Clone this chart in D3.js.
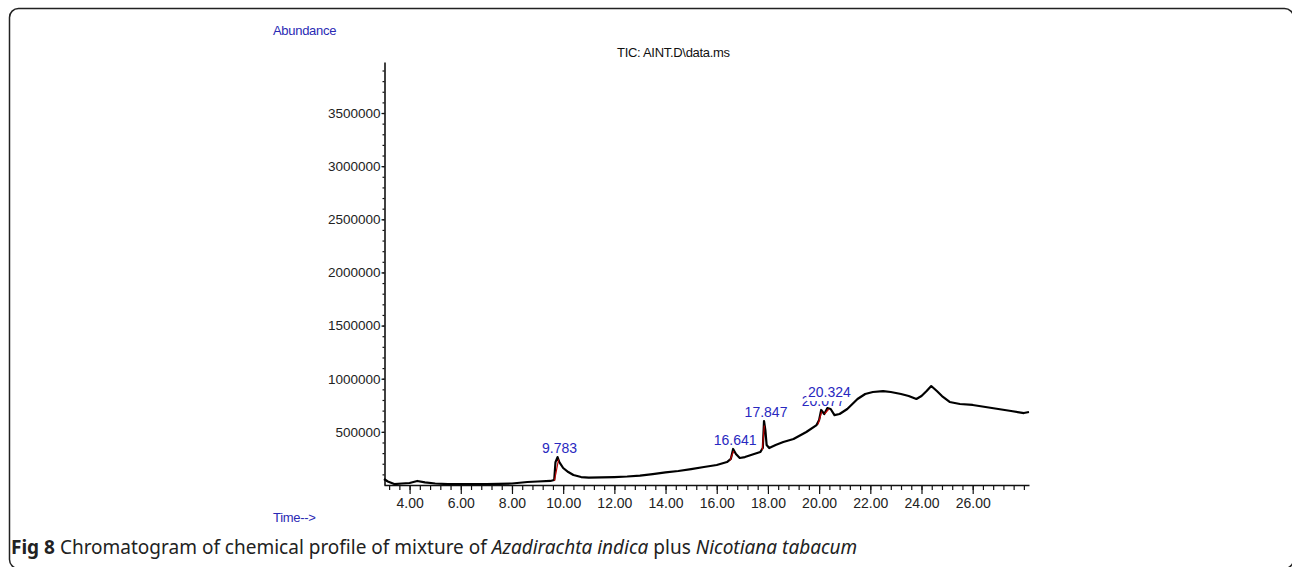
<!DOCTYPE html>
<html>
<head>
<meta charset="utf-8">
<script src="https://cdn.jsdelivr.net/npm/d3@7"></script>
<style>
body { margin: 0; background: #fff; }
svg { display: block; }
</style>
</head>
<body>
<svg class="mainSvg" width="1292" height="567"></svg>
<script>
// TIC trace (time in min, abundance)
var times = [3.0, 3.15, 3.4, 3.7, 4.0, 4.3, 4.6, 5.0, 5.5, 6.0, 7.0, 8.0, 8.6, 9.0, 9.5, 9.65,
  9.7, 9.78, 9.85, 10.0, 10.2, 10.4, 10.7, 11.0, 12.0, 12.5, 13.0, 13.5, 14.0, 14.5, 15.0,
  15.5, 16.0, 16.4, 16.55, 16.64, 16.75, 16.9, 17.1, 17.4, 17.7, 17.8, 17.847, 17.9, 17.95,
  18.05, 18.3, 18.6, 19.0, 19.5, 19.9, 20.0, 20.08, 20.2, 20.324, 20.45, 20.6, 20.8, 21.1,
  21.5, 21.8, 22.1, 22.5, 22.8, 23.2, 23.5, 23.8, 24.0, 24.2, 24.38, 24.6, 24.8, 25.1, 25.5,
  26.0, 26.5, 27.0, 27.5, 28.0, 28.2];
var abundance = [56000, 33000, 9000, 14000, 19000, 38000, 24000, 14000, 9000, 9000, 9000, 14000,
  28000, 33000, 38000, 47000, 216000, 263000, 216000, 160000, 122000, 94000, 75000, 70000,
  75000, 80000, 89000, 103000, 118000, 132000, 150000, 169000, 188000, 216000, 245000, 339000,
  292000, 254000, 263000, 287000, 310000, 348000, 602000, 517000, 376000, 348000, 376000,
  404000, 433000, 499000, 564000, 611000, 706000, 668000, 724000, 715000, 658000, 668000,
  715000, 809000, 856000, 875000, 884000, 875000, 856000, 837000, 809000, 837000, 884000,
  931000, 884000, 837000, 781000, 762000, 753000, 734000, 715000, 696000, 677000, 687000];

var peakTimes = [9.783, 16.641, 17.847, 20.077, 20.324];
var peakLabels = ["9.783", "16.641", "17.847", "20.077", "20.324"];
var peakHeights = [263000, 339000, 602000, 706000, 724000];

// red integration marks: [t1, a1, t2, a2]
var integration = [
  [9.66, 40000, 9.82, 240000],
  [16.52, 230000, 16.66, 320000],
  [17.78, 330000, 17.86, 560000],
  [19.96, 570000, 20.1, 690000],
  [20.22, 670000, 20.38, 715000]
];

var xTicks = [4, 6, 8, 10, 12, 14, 16, 18, 20, 22, 24, 26];
var yTicks = [500000, 1000000, 1500000, 2000000, 2500000, 3000000, 3500000];

var svg = d3.select(".mainSvg");
var font = "'Liberation Sans', Arial, sans-serif";

svg.append("rect")
  .attr("x", 9.5).attr("y", 8.5)
  .attr("width", 1284).attr("height", 560)
  .attr("rx", 9)
  .attr("fill", "none")
  .attr("stroke", "#222")
  .attr("stroke-width", 1.5);

var x = d3.scaleLinear().domain([3.0, 28.2]).range([384, 1029]);
var y = d3.scaleLinear().domain([0, 3980000]).range([485, 62]);

// minor ticks first
svg.append("g")
  .attr("transform", "translate(0,485)")
  .call(d3.axisBottom(x).tickValues(d3.range(3.2, 28.2, 0.4)).tickSize(5).tickSizeOuter(0).tickFormat(""))
  .call(function(g) { g.select(".domain").remove(); });

svg.append("g")
  .attr("transform", "translate(384.5,0)")
  .call(d3.axisLeft(y).tickValues(d3.range(100000, 3980000, 100000)).tickSize(2).tickSizeOuter(0).tickFormat(""))
  .call(function(g) { g.select(".domain").remove(); });

var xAxis = svg.append("g")
  .attr("transform", "translate(0,485)")
  .call(d3.axisBottom(x).tickValues(xTicks).tickSize(9).tickPadding(4).tickSizeOuter(0).tickFormat(d3.format(".2f")));
xAxis.selectAll("text").attr("font-family", font).attr("font-size", 14).attr("fill", "#222");

var yAxis = svg.append("g")
  .attr("transform", "translate(384.5,0)")
  .call(d3.axisLeft(y).tickValues(yTicks).tickSize(3).tickPadding(1).tickSizeOuter(0).tickFormat(function(d) { return d; }));
yAxis.selectAll("text").attr("font-family", font).attr("font-size", 13.5).attr("fill", "#222");

svg.selectAll(".domain").attr("stroke", "#111").attr("stroke-width", 1.6);
svg.selectAll(".tick line").attr("stroke", "#111").attr("stroke-width", 1.2);

var line = d3.line()
  .x(function(d, i) { return x(times[i]); })
  .y(function(d) { return y(d); });

svg.append("path")
  .datum(abundance)
  .attr("d", line)
  .attr("fill", "none")
  .attr("stroke", "#000")
  .attr("stroke-width", 2.2)
  .attr("stroke-linejoin", "round");

svg.selectAll(".intg")
  .data(integration)
  .enter().append("line")
  .attr("x1", function(d) { return x(d[0]); })
  .attr("y1", function(d) { return y(d[1]); })
  .attr("x2", function(d) { return x(d[2]); })
  .attr("y2", function(d) { return y(d[3]); })
  .attr("stroke", "#c00000")
  .attr("stroke-width", 1.2);

// peak labels; the last one overlaps the one before and gets a white box
peakTimes.forEach(function(t, i) {
  var lift = i == 4 ? 11 : 4;
  var px = x(t) + 2, py = y(peakHeights[i]) - lift;
  if (i == 4) {
    svg.append("rect")
      .attr("x", px - 23).attr("y", py - 14)
      .attr("width", 47).attr("height", 18)
      .attr("fill", "#fff");
  }
  svg.append("text")
    .attr("x", px).attr("y", py)
    .attr("text-anchor", "middle")
    .attr("font-family", font)
    .attr("font-size", 14)
    .attr("fill", "#2828c0")
    .text(peakLabels[i]);
});

svg.append("text")
  .attr("x", 273).attr("y", 35)
  .attr("font-family", font).attr("font-size", 13)
  .attr("fill", "#2a2ab4")
  .attr("letter-spacing", -0.3)
  .text("Abundance");

svg.append("text")
  .attr("x", 617).attr("y", 57)
  .attr("font-family", font).attr("font-size", 13)
  .attr("fill", "#111")
  .attr("letter-spacing", -0.3)
  .text("TIC: AINT.D\\data.ms");

svg.append("text")
  .attr("x", 273).attr("y", 522)
  .attr("font-family", font).attr("font-size", 13)
  .attr("fill", "#2a2ab4")
  .attr("letter-spacing", -0.3)
  .text("Time-->");

var cap = svg.append("text")
  .attr("x", 11).attr("y", 554)
  .attr("font-family", "'Noto Sans', sans-serif")
  .attr("font-size", 16)
  .attr("fill", "#222");
cap.append("tspan").attr("font-weight", "bold").text("Fig 8");
cap.append("tspan").text(" Chromatogram of chemical profile of mixture of ");
cap.append("tspan").attr("font-style", "italic").text("Azadirachta indica");
cap.append("tspan").text(" plus ");
cap.append("tspan").attr("font-style", "italic").text("Nicotiana tabacum");

// fit caption width to the figure's
var w = cap.node().getComputedTextLength();
cap.attr("font-size", 16 * 847 / w);
</script>
</body>
</html>
